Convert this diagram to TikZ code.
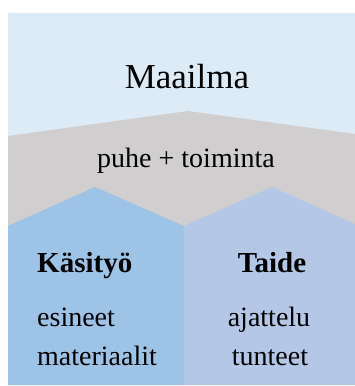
\documentclass[tikz,border=0pt]{standalone}
\usepackage{fontspec}
\setmainfont{Liberation Serif}
\definecolor{topblue}{HTML}{DDEBF7}
\definecolor{midgrey}{HTML}{D0CECE}
\definecolor{leftblue}{HTML}{9DC3E6}
\definecolor{rightblue}{HTML}{B4C7E7}
\tikzset{
  lbl/.style={inner sep=0pt, anchor=base, font=\fontsize{28}{28}\selectfont},
  lbll/.style={lbl, anchor=base west},
  ttl/.style={lbl, font=\fontsize{29}{29}\selectfont\bfseries}
}
\begin{document}
\begin{tikzpicture}[x=1pt,y=-1pt]
\useasboundingbox (0,0) rectangle (355,386);
\fill[topblue] (8,13) rectangle (355,385);
\fill[midgrey] (8,136) -- (188,111) -- (355,134) -- (355,385) -- (8,385) -- cycle;
\fill[leftblue] (8,226) -- (95,187) -- (184,226) -- (184,385) -- (8,385) -- cycle;
\fill[rightblue] (184,226) -- (272,187) -- (355,224) -- (355,385) -- (184,385) -- cycle;
\node[lbl, font=\fontsize{35}{35}\selectfont] (maailma) at (187,88) {Maailma};
\node[lbl] (puhe) at (186,167) {puhe + toiminta};
\node[ttl, anchor=base west] (kasityo) at (37,272) {Käsityö};
\node[lbll] (esineet) at (37,326) {esineet};
\node[lbll] (materiaalit) at (37,365) {materiaalit};
\node[ttl] (taide) at (272,272) {Taide};
\node[lbl] (ajattelu) at (269,326) {ajattelu};
\node[lbl] (tunteet) at (270,365) {tunteet};
\end{tikzpicture}
\end{document}
